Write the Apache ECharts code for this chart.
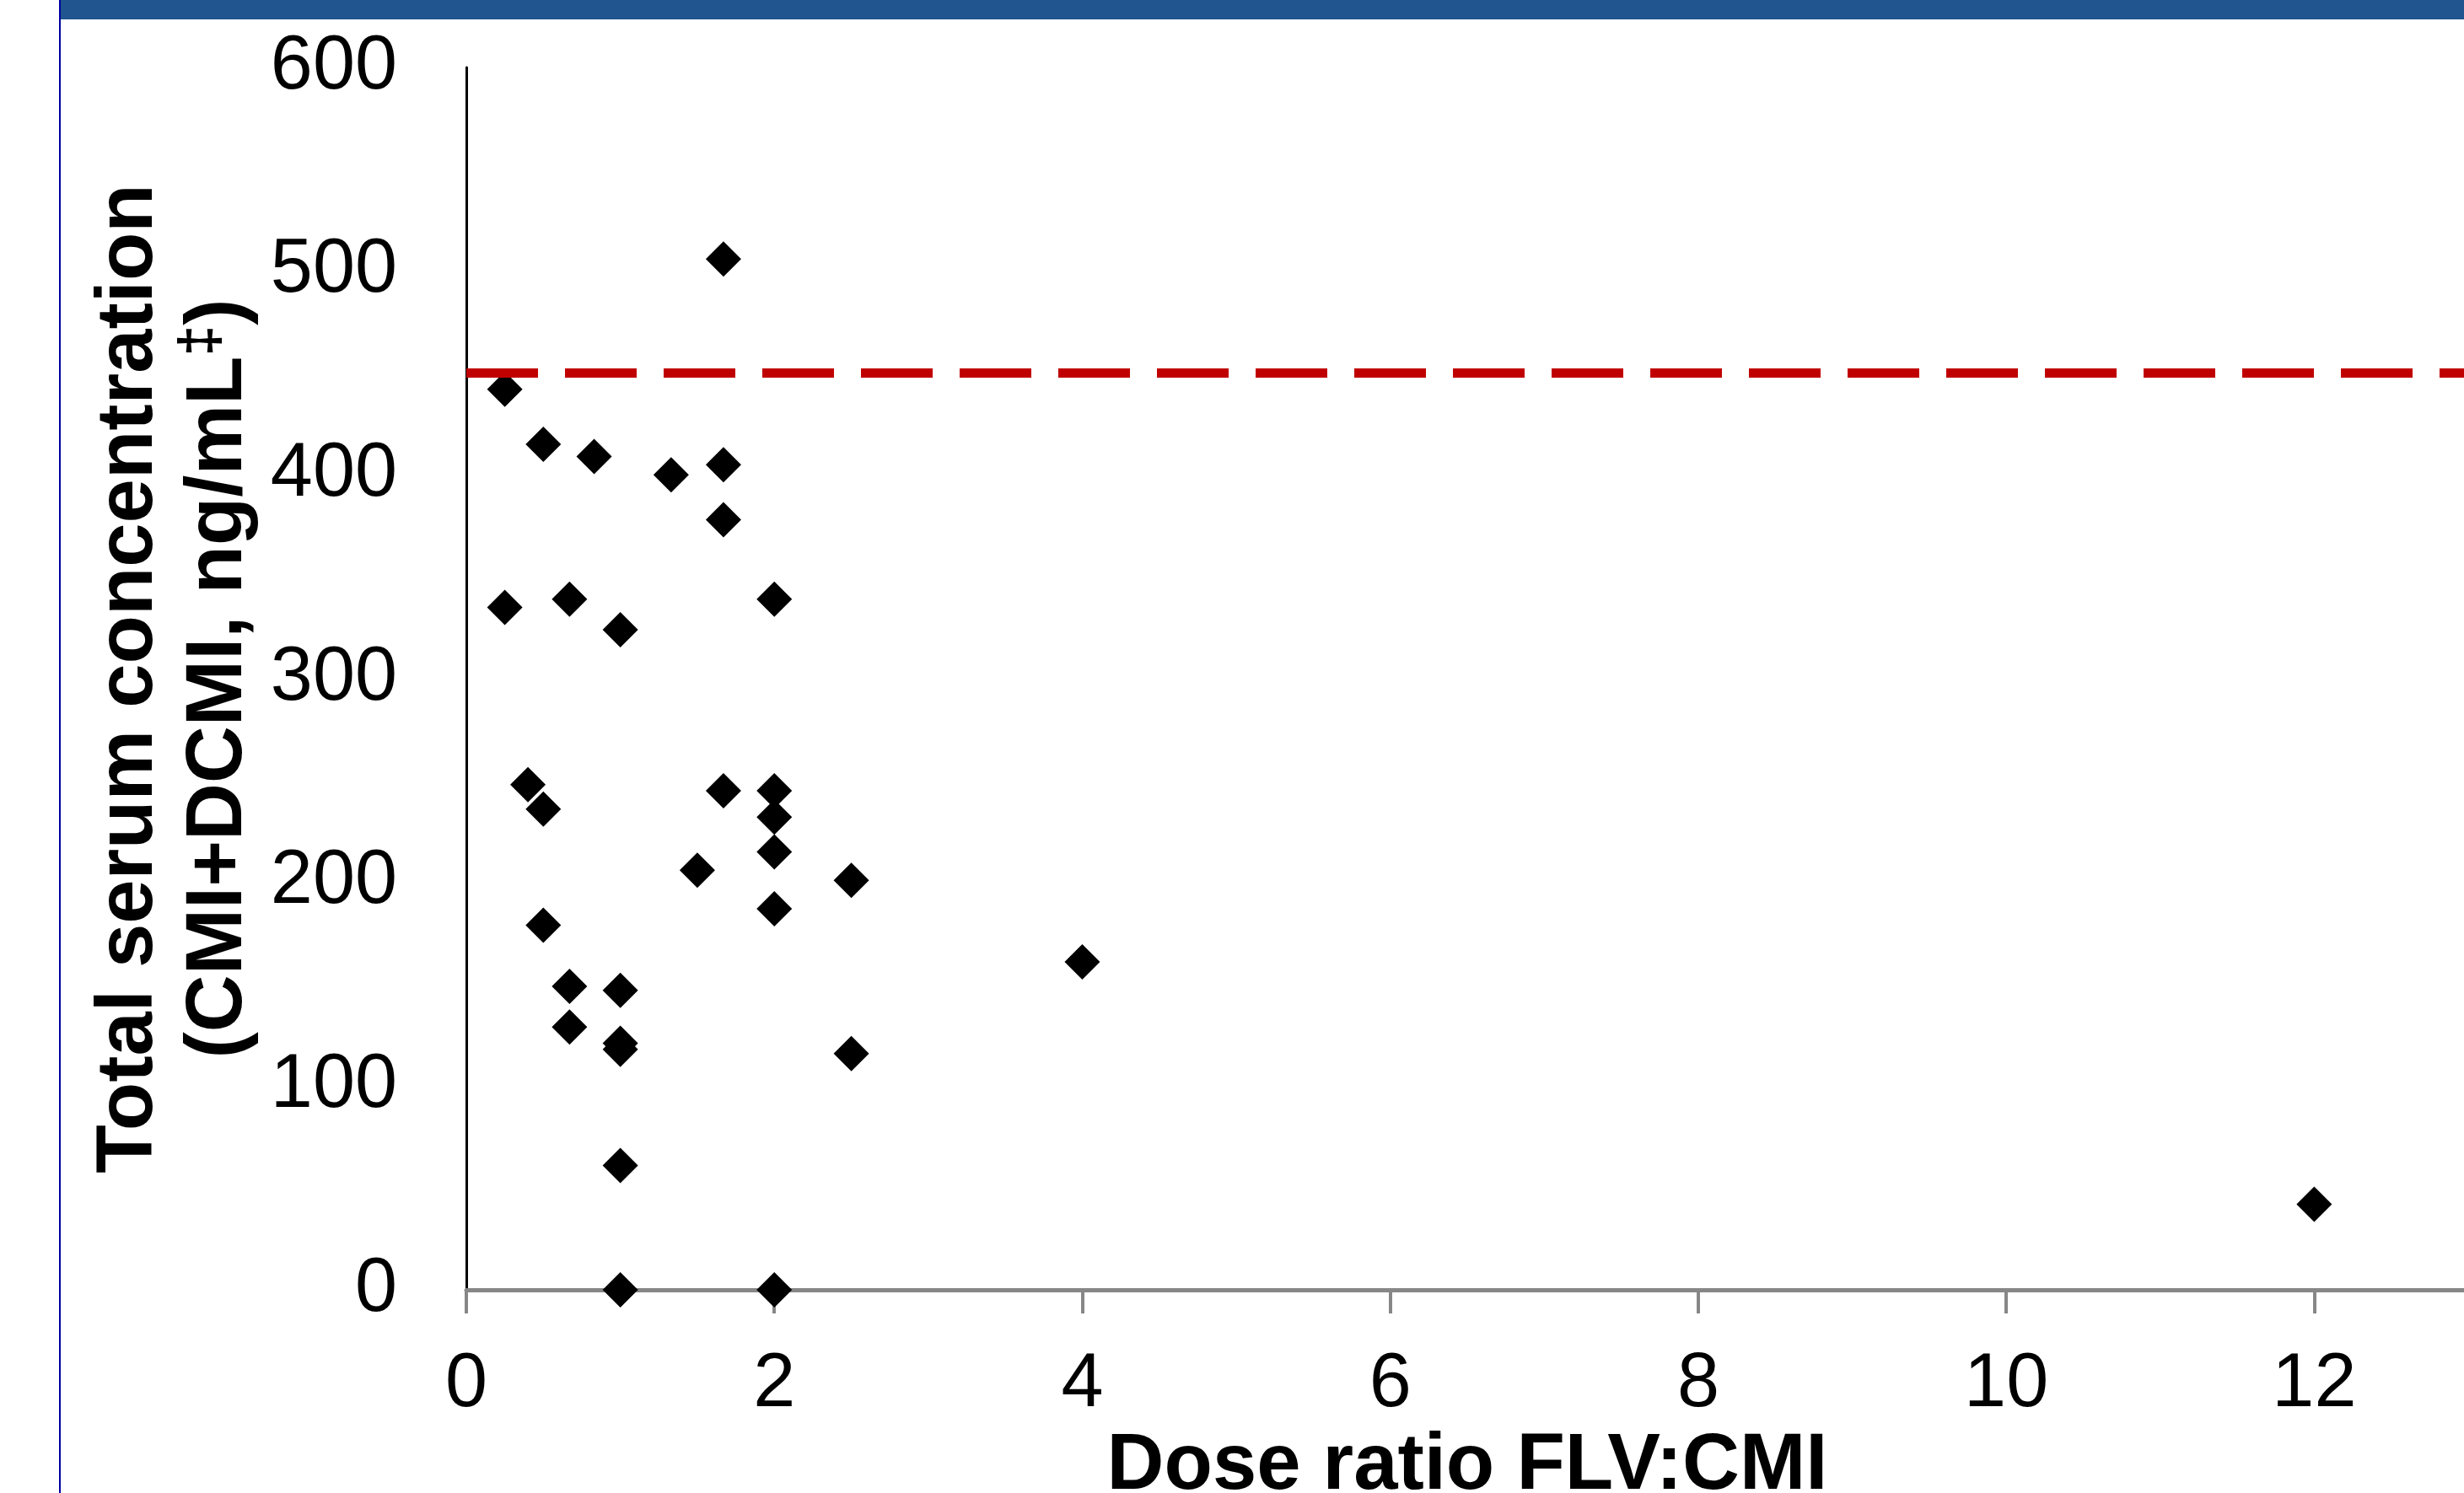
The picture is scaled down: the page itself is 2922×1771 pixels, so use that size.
<!DOCTYPE html>
<html>
<head>
<meta charset="utf-8">
<script src="https://cdn.jsdelivr.net/npm/echarts@6/dist/echarts.min.js"></script>
<style>
  html, body { margin: 0; padding: 0; background: #fff; }
  #chart { width: 2922px; height: 1771px; }
</style>
</head>
<body>
<div id="chart"></div>
<script>
// dose ratio FLV:CMI vs total serum concentration (CMI+DCMI)
const doseRatio = [
  1.67, 0.25, 0.5, 0.83, 1.33, 1.67, 1.67, 0.25, 0.67, 1.0, 2.0,
  0.4, 0.5, 1.67, 2.0, 2.0, 2.0, 1.5, 2.5, 2.0, 0.5, 4.0,
  0.67, 1.0, 0.67, 1.0, 1.0, 2.5, 1.0, 1.0, 2.0, 12.0
]
const serumConc = [
  506, 442, 415, 409, 400, 405, 378, 335, 339, 324, 339,
  248, 236, 245, 245, 232, 215, 206, 201, 187, 179, 161,
  149, 147, 129, 121, 118, 116, 61, 0, 0, 42
]
const thresholdConc = 450
const xTicks = { min: 0, max: 13, step: 2 }
const yTicks = { min: 0, max: 600, step: 100 }

const points = doseRatio.map((x, i) => [x, serumConc[i]])

const chart = echarts.init(document.getElementById('chart'))

const fontFamily = '"Liberation Sans", Arial, sans-serif'

chart.setOption({
  animation: false,
  backgroundColor: '#fff',
  // axis runs off the right edge and the x title is cut at the bottom, so no outer bounds
  grid: { left: 553, top: 80, width: 2374, height: 1450, outerBoundsMode: 'none', containLabel: false },
  graphic: [
    { type: 'rect', shape: { x: 70, y: 0, width: 2852, height: 23 }, style: { fill: '#21558F' } },
    { type: 'rect', shape: { x: 70, y: 0, width: 2, height: 1771 }, style: { fill: '#0000A0' } },
  ],
  xAxis: {
    type: 'value',
    min: xTicks.min,
    max: xTicks.max,
    interval: xTicks.step,
    splitLine: { show: false },
    axisLine: { show: true, onZero: false, lineStyle: { color: '#878787', width: 5 } },
    axisTick: { show: true, length: 28, lineStyle: { color: '#878787', width: 4 } },
    axisLabel: {
      margin: 68,
      showMaxLabel: false,
      color: '#000',
      fontSize: 90,
      fontFamily,
    },
    name: 'Dose ratio FLV:CMI',
    nameLocation: 'middle',
    nameGap: 152,
    nameTextStyle: { color: '#000', fontSize: 94, fontWeight: 'bold', fontFamily },
  },
  yAxis: {
    type: 'value',
    min: yTicks.min,
    max: yTicks.max,
    interval: yTicks.step,
    splitLine: { show: false },
    axisLine: { show: true, lineStyle: { color: '#000', width: 3 } },
    axisTick: { show: false },
    axisLabel: {
      margin: 82,
      color: '#000',
      fontSize: 90,
      fontFamily,
    },
    name: '{a|Total serum concentration}\n{a|(CMI+DCMI, ng/mL}{s|‡}{a|)}',
    nameLocation: 'middle',
    nameGap: 240,
    nameTextStyle: {
      color: '#000',
      fontFamily,
      rich: {
        a: { fontSize: 94, fontWeight: 'bold', lineHeight: 106, fontFamily, color: '#000' },
        s: { fontSize: 66, fontWeight: 'bold', lineHeight: 76, verticalAlign: 'top', fontFamily, color: '#000' },
      },
    },
  },
  series: [
    {
      type: 'scatter',
      data: points,
      symbol: 'diamond',
      symbolSize: 42,
      itemStyle: { color: '#000', opacity: 1 },
      silent: true,
      markLine: {
        silent: true,
        symbol: 'none',
        label: { show: false },
        lineStyle: { color: '#C00000', width: 11, type: [85, 32], opacity: 1 },
        data: [{ yAxis: thresholdConc }],
      },
    },
  ],
})
</script>
</body>
</html>
